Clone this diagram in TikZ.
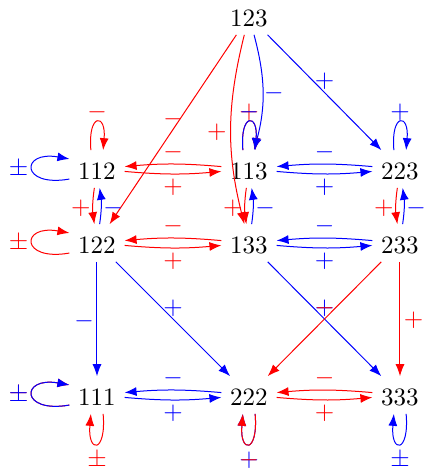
\documentclass[tikz,border=0pt]{standalone}
\usetikzlibrary{arrows.meta}
\begin{document}
\begin{tikzpicture}[x=0.4pt, y=0.4pt, >={Latex},
  vtx/.style={anchor=base, inner sep=3.333pt, text height=8pt, text depth=0pt},
  lab/.style={inner sep=0pt},
  hpair/.style={->, bend right=5},
  vpair/.style={->, bend right=8},
  loopup/.style={->, out=95, in=85, distance=15pt},
  loopdown/.style={->, out=275, in=265, distance=16pt},
  loopleft/.style={->, out=190, in=170, distance=20pt}]
\useasboundingbox (0,0) rectangle (423,-469);

% states, placed on their baselines
\node[vtx] (n123) at (249,-26)  {123};
\node[vtx] (n112) at (97,-179)  {112};
\node[vtx] (n113) at (249,-179) {113};
\node[vtx] (n223) at (400,-179) {223};
\node[vtx] (n122) at (97,-253)  {122};
\node[vtx] (n133) at (249,-253) {133};
\node[vtx] (n233) at (400,-253) {233};
\node[vtx] (n111) at (97,-405)  {111};
\node[vtx] (n222) at (249,-405) {222};
\node[vtx] (n333) at (400,-405) {333};

% transitions out of 123
\draw[red,->] (n123) -- node[lab,pos=.5,shift={(0,10)}] {$-$} (n122);
\draw[red,->] (n123) to[bend right=14] node[lab,pos=.5,shift={(-14,-3)}] {$+$} (n133);
\draw[blue,->] (n123) to[bend left=15] node[lab,pos=.5,shift={(11,-1)}] {$-$} (n113);
\draw[blue,->] (n123) -- node[lab,pos=.5,shift={(0,11.5)}] {$+$} (n223);

% horizontal pairs
\draw[red,hpair] (n113) to node[lab,pos=.5,shift={(0,11.5)}] {$-$} (n112);
\draw[red,hpair] (n112) to node[lab,pos=.5,shift={(0,-13.5)}] {$+$} (n113);
\draw[blue,hpair] (n223) to node[lab,pos=.5,shift={(0,11.5)}] {$-$} (n113);
\draw[blue,hpair] (n113) to node[lab,pos=.5,shift={(0,-13.5)}] {$+$} (n223);
\draw[red,hpair] (n133) to node[lab,pos=.5,shift={(0,11.5)}] {$-$} (n122);
\draw[red,hpair] (n122) to node[lab,pos=.5,shift={(0,-13.5)}] {$+$} (n133);
\draw[blue,hpair] (n233) to node[lab,pos=.5,shift={(0,11.5)}] {$-$} (n133);
\draw[blue,hpair] (n133) to node[lab,pos=.5,shift={(0,-13.5)}] {$+$} (n233);
\draw[blue,hpair] (n222) to node[lab,pos=.5,shift={(0,11.5)}] {$-$} (n111);
\draw[blue,hpair] (n111) to node[lab,pos=.5,shift={(0,-13.5)}] {$+$} (n222);
\draw[red,hpair] (n333) to node[lab,pos=.5,shift={(0,11.5)}] {$-$} (n222);
\draw[red,hpair] (n222) to node[lab,pos=.5,shift={(0,-13.5)}] {$+$} (n333);

% vertical pairs
\draw[red,vpair] (n112) to node[lab,pos=.5,shift={(-12,-2.5)}] {$+$} (n122);
\draw[blue,vpair] (n122) to node[lab,pos=.5,shift={(12,-2.5)}] {$-$} (n112);
\draw[red,vpair] (n113) to node[lab,pos=.5,shift={(-12,-2.5)}] {$+$} (n133);
\draw[blue,vpair] (n133) to node[lab,pos=.5,shift={(12,-2.5)}] {$-$} (n113);
\draw[red,vpair] (n223) to node[lab,pos=.5,shift={(-12,-2.5)}] {$+$} (n233);
\draw[blue,vpair] (n233) to node[lab,pos=.5,shift={(12,-2.5)}] {$-$} (n223);

% lower transitions
\draw[blue,->] (n122) -- node[lab,pos=.5,shift={(-13,-2)}] {$-$} (n111);
\draw[blue,->] (n122) -- node[lab,pos=.5,shift={(0,10.5)}] {$+$} (n222);
\draw[blue,->] (n133) -- node[lab,pos=.5,shift={(0,11)}] {$+$} (n333);
\draw[red,->] (n233) -- node[lab,pos=.5,shift={(0,11)}] {$-$} (n222);
\draw[red,->] (n233) -- node[lab,pos=.5,shift={(13.5,-1.5)}] {$+$} (n333);

% self loops above
\draw[red,loopup] (n112.108) to node[lab,pos=.5,shift={(0,10)}] {$-$} (n112.72);
\draw[red,loopup] (n113.108) to node[lab,pos=.5,shift={(0,10)}] {$+$} (n113.72);
\draw[blue,loopup] (n113.108) to node[lab,pos=.5,shift={(0,10)}] {$-$} (n113.72);
\draw[blue,loopup] (n223.108) to node[lab,pos=.5,shift={(0,10)}] {$+$} (n223.72);

% self loops on the left
\draw[blue,loopleft] (n112.200) to node[lab,pos=.5,shift={(-14,0)}] {$\pm$} (n112.160);
\draw[red,loopleft] (n122.200) to node[lab,pos=.5,shift={(-14,0)}] {$\pm$} (n122.160);
\draw[red,loopleft] (n111.200) to node[lab,pos=.5,shift={(-14,0)}] {$\pm$} (n111.160);
\draw[blue,loopleft] (n111.200) to node[lab,pos=.5,shift={(-14,0)}] {$\pm$} (n111.160);

% self loops below
\draw[red,loopdown] (n111.288) to node[lab,pos=.5,shift={(0,-17)}] {$\pm$} (n111.252);
\draw[blue,loopdown] (n222.288) to node[lab,pos=.5,shift={(0,-17)}] {$+$} (n222.252);
\draw[red,loopdown] (n222.288) to node[lab,pos=.5,shift={(0,-17)}] {$-$} (n222.252);
\draw[blue,loopdown] (n333.288) to node[lab,pos=.5,shift={(0,-17)}] {$\pm$} (n333.252);
\end{tikzpicture}
\end{document}
